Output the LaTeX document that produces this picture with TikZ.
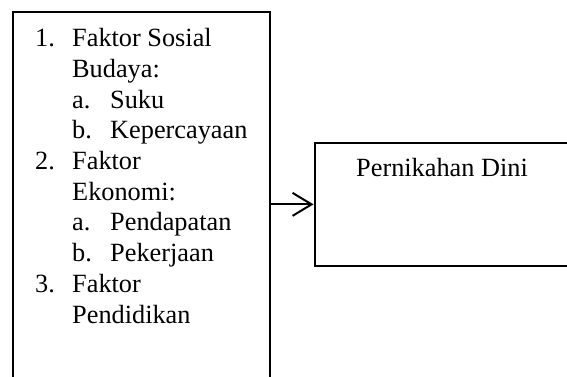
\documentclass[tikz,border=0pt]{standalone}
\usepackage{fontspec}
\setmainfont{Liberation Serif}
\usetikzlibrary{arrows.meta}
\begin{document}
\begin{tikzpicture}[x=1pt,y=-1pt,
  box/.style={draw,line width=2pt,rectangle,inner sep=0pt,anchor=north west},
  txt/.style={anchor=base west,inner sep=0pt,font=\fontsize{26.3}{30.7}\selectfont},
  conn/.style={line width=2pt,-{Straight Barb[length=19pt,width=23pt,line width=2pt]}}]
\useasboundingbox (0,0) rectangle (567,376);
\clip (0,0) rectangle (567,376);
\node[box,minimum width=257pt,minimum height=390pt] (factors) at (12,11) {};
\node[box,minimum width=280pt,minimum height=123.3pt] (outcome) at (313.5,141.7) {};
\node[txt] (n1) at (35,46.7) {1.};
\node[txt] (t1) at (72,46.7) {Faktor Sosial};
\node[txt] (t1b) at (72,77.4) {Budaya:};
\node[txt] (a1) at (72,108.1) {a.};
\node[txt] (s1a) at (110,108.1) {Suku};
\node[txt] (b1) at (72,138.8) {b.};
\node[txt] (s1b) at (110,138.8) {Kepercayaan};
\node[txt] (n2) at (35,169.5) {2.};
\node[txt] (t2) at (72,169.5) {Faktor};
\node[txt] (t2b) at (72,200.2) {Ekonomi:};
\node[txt] (a2) at (72,230.9) {a.};
\node[txt] (s2a) at (110,230.9) {Pendapatan};
\node[txt] (b2) at (72,261.6) {b.};
\node[txt] (s2b) at (110,261.6) {Pekerjaan};
\node[txt] (n3) at (35,292.3) {3.};
\node[txt] (t3) at (72,292.3) {Faktor};
\node[txt] (t3b) at (72,323) {Pendidikan};
\node[txt] (lbl) at (356,176) {Pernikahan Dini};
\draw[conn] (outcome.west -| factors.east) -- (outcome.west);
\end{tikzpicture}
\end{document}
